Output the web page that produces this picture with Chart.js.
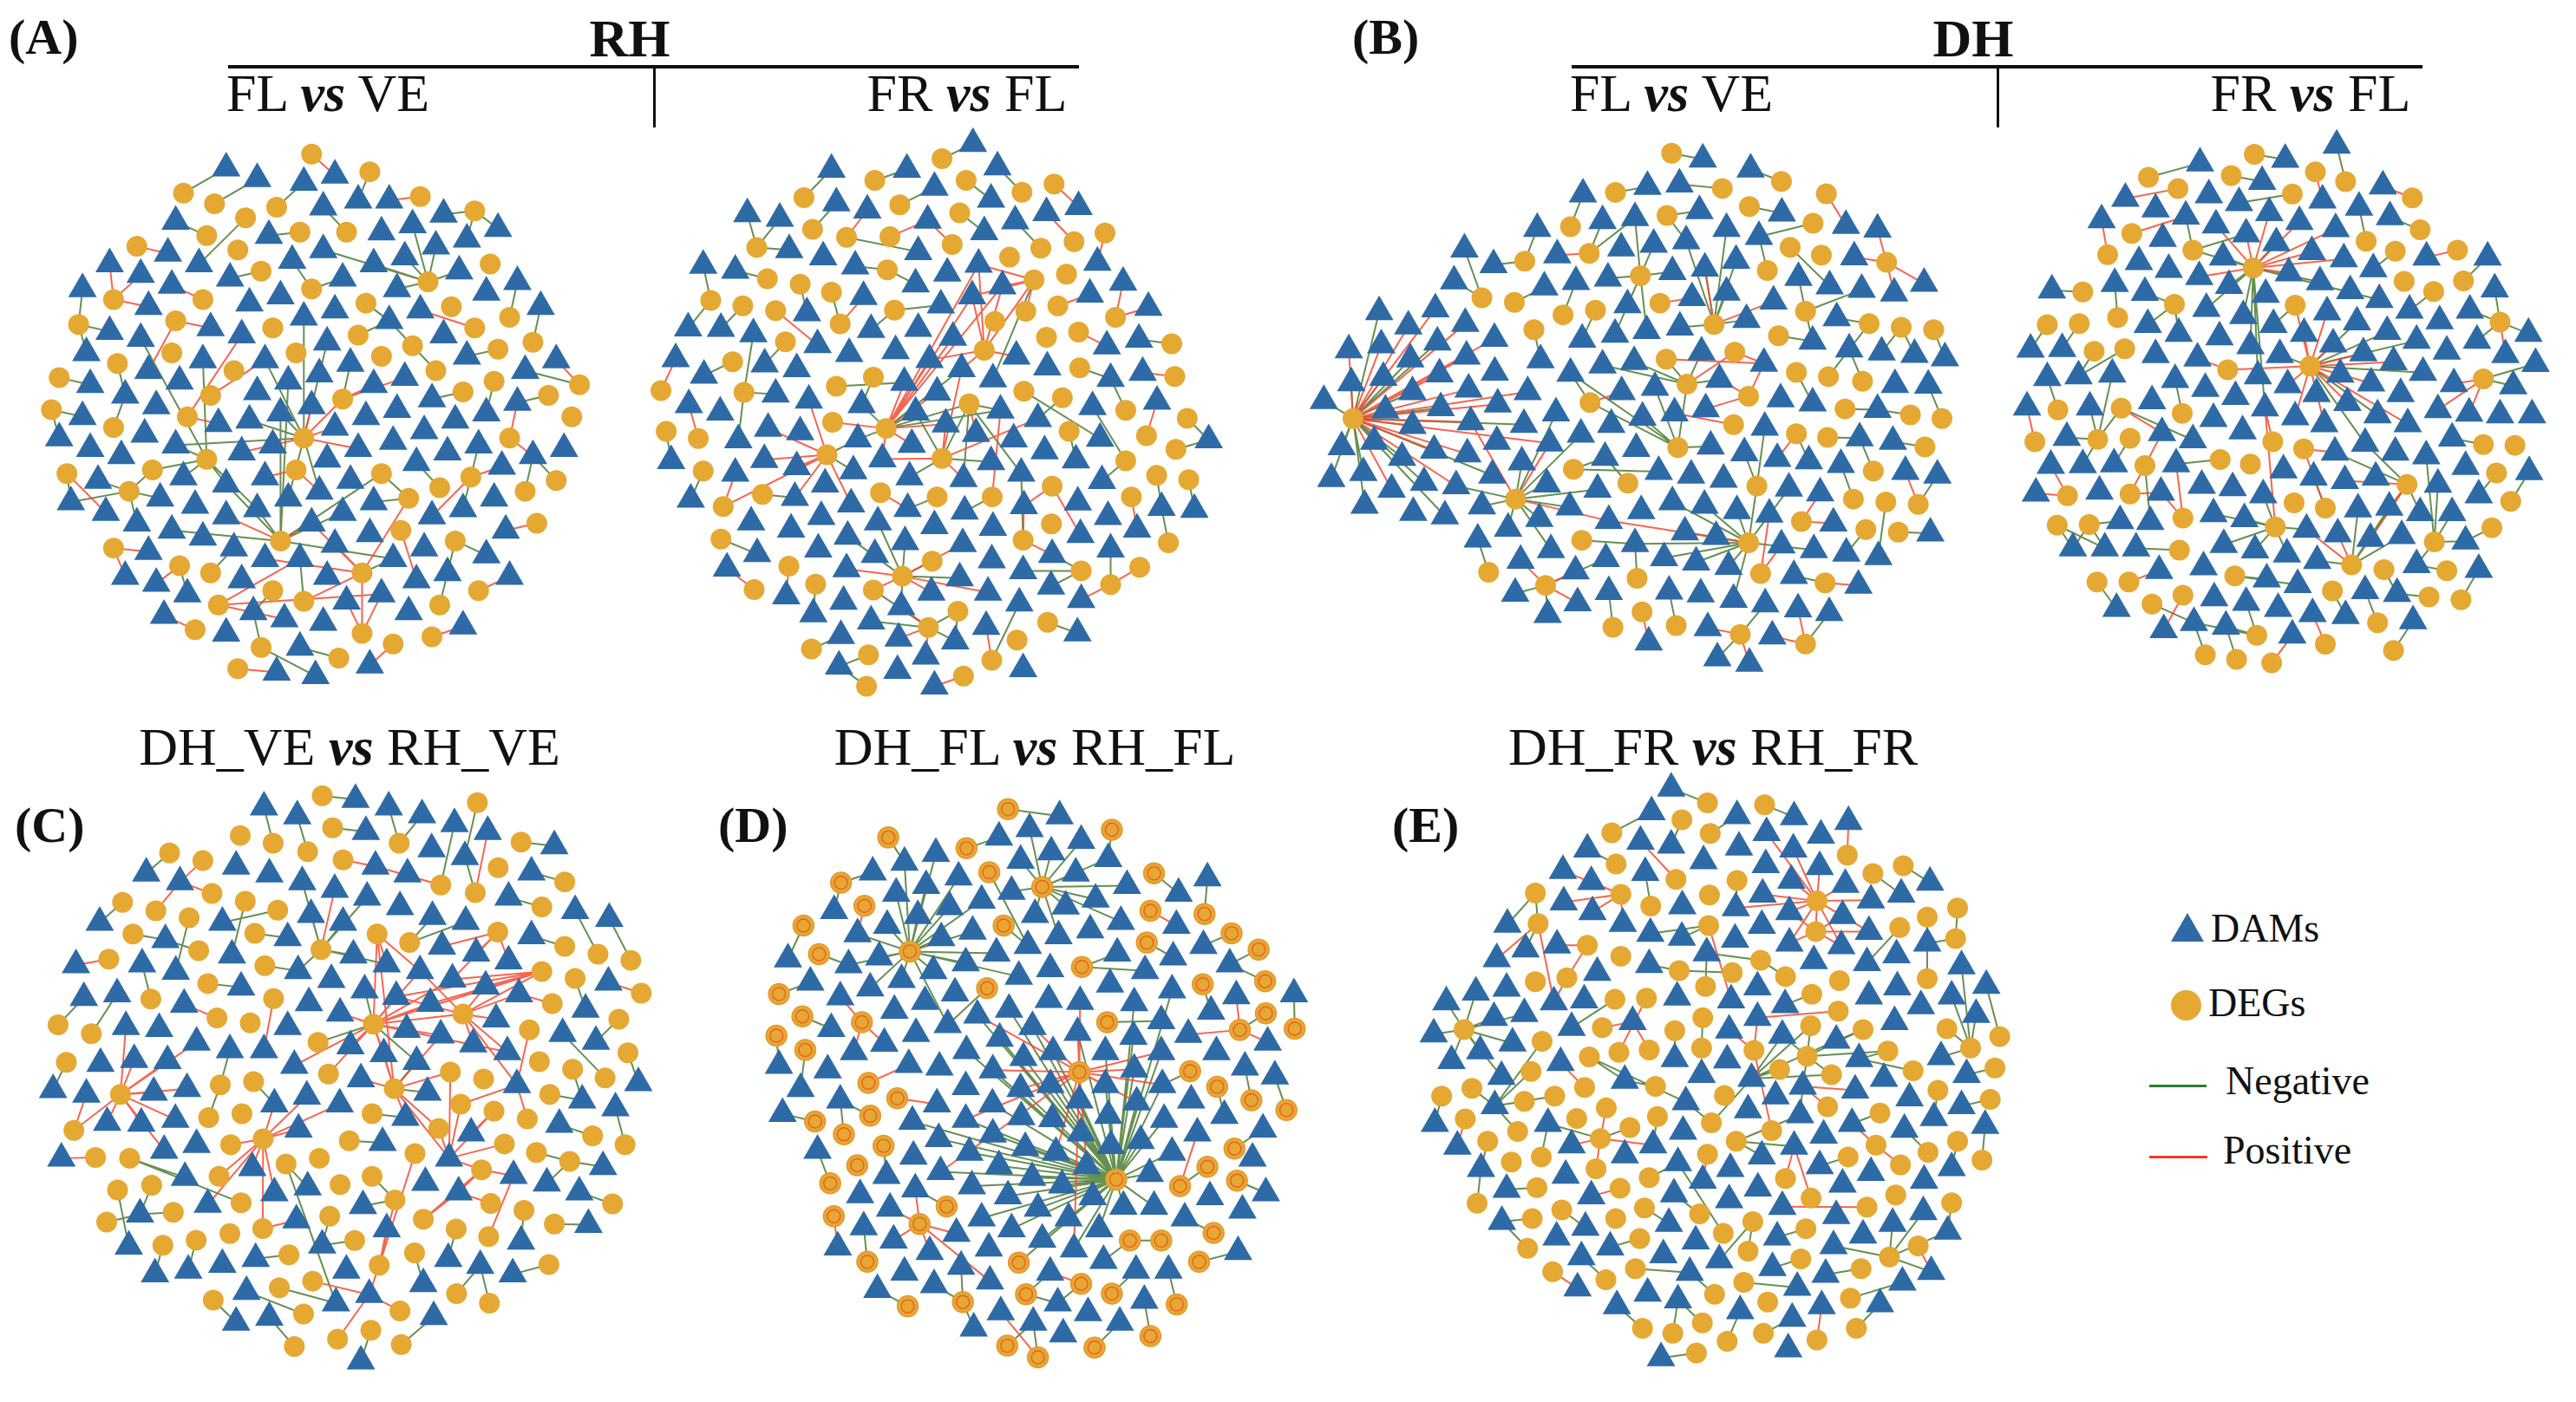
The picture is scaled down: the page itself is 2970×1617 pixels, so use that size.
<!DOCTYPE html>
<html>
<head>
<meta charset="utf-8">
<script src="https://cdn.jsdelivr.net/npm/chart.js@4.4.1/dist/chart.umd.min.js"></script>
<style>
  body { margin: 0; background: #fff; }
  #fig { position: relative; width: 2970px; height: 1617px; overflow: hidden; font-family: 'Liberation Serif', 'Times New Roman', serif; color: #111; }
  #fig canvas { position: absolute; }
  .t { position: absolute; line-height: 1; white-space: nowrap; font-family: 'Liberation Serif', 'Times New Roman', serif; }
  .c { text-align: center; width: 800px; }
  .lab { font-weight: bold; font-size: 58px; }
  .big { font-weight: bold; font-size: 62px; }
  .sub { font-size: 62px; }
  .t i { font-weight: bold; }
  .rule { position: absolute; background: #111; }
  .leg { font-size: 46px; }
</style>
</head>
<body>
<div id="fig">
  <div class="t lab" style="left:10px;top:14px">(A)</div>
  <div class="t big c" style="left:326px;top:13px">RH</div>
  <div class="rule" style="left:263px;top:75px;width:981px;height:4px"></div>
  <div class="rule" style="left:753px;top:77px;width:3px;height:70px"></div>
  <div class="t sub c" style="left:-22px;top:76px">FL <i>vs</i> VE</div>
  <div class="t sub c" style="left:715px;top:76px">FR <i>vs</i> FL</div>

  <div class="t lab" style="left:1559px;top:14px">(B)</div>
  <div class="t big c" style="left:1875px;top:13px">DH</div>
  <div class="rule" style="left:1812px;top:75px;width:981px;height:4px"></div>
  <div class="rule" style="left:2302px;top:77px;width:3px;height:70px"></div>
  <div class="t sub c" style="left:1527px;top:76px">FL <i>vs</i> VE</div>
  <div class="t sub c" style="left:2264px;top:76px">FR <i>vs</i> FL</div>

  <div class="t sub c" style="left:3px;top:830px">DH_VE <i>vs</i> RH_VE</div>
  <div class="t sub c" style="left:793px;top:830px">DH_FL <i>vs</i> RH_FL</div>
  <div class="t sub c" style="left:1575px;top:830px">DH_FR <i>vs</i> RH_FR</div>
  <div class="t lab" style="left:17px;top:923px">(C)</div>
  <div class="t lab" style="left:828px;top:923px">(D)</div>
  <div class="t lab" style="left:1605px;top:923px">(E)</div>

  <div style="position:absolute;left:2503px;top:1053px;width:0;height:0;border-left:19px solid transparent;border-right:19px solid transparent;border-bottom:33px solid #2E6AA5"></div>
  <div class="t leg" style="left:2549px;top:1048px">DAMs</div>
  <div style="position:absolute;left:2503px;top:1142px;width:35px;height:35px;border-radius:50%;background:#E5A832"></div>
  <div class="t leg" style="left:2546px;top:1134px">DEGs</div>
  <div style="position:absolute;left:2478px;top:1251px;width:66px;height:3px;background:#2E7A2E"></div>
  <div class="t leg" style="left:2566px;top:1224px">Negative</div>
  <div style="position:absolute;left:2478px;top:1333px;width:67px;height:3px;background:#F03A2A"></div>
  <div class="t leg" style="left:2563px;top:1304px">Positive</div>
</div>
<script>
// node layouts; A is in tenths of the zoom grid, the rest in zoom-grid units
const rhFlVeDams = [54,11,62,14,74,15,82,13,79,22,88,20,96,20,110,24,124,28,41,26,65,30,94,29,102,27,116,31,108,33,39,35,47,38,79,34,71,37,24,38,92,38,100,36,114,40,32,41,40,44,55,42,84,42,17,45,98,45,129,43,121,46,34,50,68,47,60,49,104,51,74,53,82,51,96,54,135,50,24,57,50,56,58,58,32,59,110,58,80,60,18,63,48,65,64,65,86,66,116,64,139,65,131,68,100,70,19,72,34,68,42,71,70,71,78,69,92,72,62,74,107,76,28,75,17,81,36,78,52,83,60,82,68,80,76,78,82,84,98,79,90,81,129,77,121,80,113,82,105,85,11,87,19,90,33,86,41,89,66,89,58,91,88,90,97,88,111,91,119,89,133,92,141,90,27,92,21,99,43,98,54,100,64,98,80,93,86,99,103,94,125,95,14,105,23,108,37,104,46,106,54,109,62,107,70,104,78,102,84,108,92,105,107,109,115,107,123,104,31,111,40,113,48,115,76,111,82,117,91,114,105,118,126,113,34,119,56,118,64,121,73,121,97,121,28,126,58,127,80,126,111,125,103,127,121,120,127,126,36,128,44,131,61,136,69,138,85,133,94,131,101,136,38,137,54,142,79,139,73,146,115,140,67,153,77,154,91,151];
const rhFlVeDegs = [76,7,91,12,43,18,51,21,67,22,104,19,118,23,59,25,49,30,73,29,85,29,31,33,57,34,122,38,63,40,76,45,106,43,25,48,48,48,90,49,112,50,16,55,41,54,66,56,88,58,118,56,127,53,133,60,40,63,72,63,102,61,94,64,26,66,56,68,124,62,108,68,11,70,50,75,84,76,145,72,123,71,115,74,137,75,9,79,44,81,143,81,25,84,74,87,127,87,49,93,13,97,35,96,72,96,94,97,117,98,139,99,29,102,101,104,109,101,131,102,68,116,99,113,113,116,134,111,25,118,42,123,50,125,89,125,119,130,66,130,74,133,52,134,109,134,46,141,89,142,63,146,107,143,97,145,57,152,83,149];
const rhFlVeNeg = [[74,87,74,53,68,80,70,104,60,82,64,65,80,60,41,89,78,102],[68,116,68,80,70,71,54,100,40,113,94,97,62,107,84,108,97,121],[49,93,32,59,48,65,41,89,35,96,54,100,62,107,43,98],[106,43,92,38,100,36,102,27,108,33,114,40,98,45,79,34],[29,102,21,99,37,104,31,111,35,96,14,105],[117,98,115,107,119,89],[84,76,86,66],[89,125,97,121],[91,12,88,20],[43,18,54,11],[51,21,62,14],[67,22,74,15],[118,23,110,24,124,28,116,31],[59,25,47,38],[49,30,41,26],[73,29,65,30],[85,29,79,22],[63,40,55,42],[76,45,71,37,84,42],[16,55,17,45,24,57,18,63],[96,54,90,49,102,61,88,58],[102,61,108,68],[127,53,129,43],[133,60,135,50],[124,62,116,64],[145,72,131,68],[137,75,129,77],[123,71,121,80],[115,74,107,76],[11,70,19,72],[26,66,28,75],[9,79,17,81,11,87],[25,84,28,75],[139,99,133,92],[131,102,133,92],[13,97,14,105],[101,104,92,105,94,97],[109,101,103,94],[113,116,121,120,111,125],[109,134,111,125],[42,123,44,131],[50,125,56,118],[66,130,61,136],[63,146,61,136,77,154],[83,149,73,146],[74,133,73,121]];
const rhFlVePos = [[76,7,82,13],[104,19,96,20],[31,33,39,35],[25,48,24,38,32,41,34,50],[48,48,40,44],[41,54,50,56,34,68],[118,56,104,51],[145,72,139,65],[127,87,133,92,129,77],[13,97,23,108],[44,81,52,83,58,58],[50,75,64,65],[74,87,76,78,82,84,88,90,84,76,58,91],[84,76,92,72,100,70],[72,96,64,98,78,102],[117,98,107,109,125,95],[99,113,103,127],[134,111,126,113],[119,130,127,126],[25,118,34,119,28,126],[42,123,36,128],[52,134,73,121,69,138,94,131],[89,125,76,111,82,117,74,133,101,104,64,121],[89,142,94,131,85,133,89,125],[46,141,38,137],[57,152,67,153],[97,145,91,151],[107,143,115,140],[68,116,54,109,76,111]];

const rhFrFlDams = [880,40,505,112,705,112,945,105,778,162,518,205,928,195,1160,215,600,225,282,235,368,248,760,253,1075,232,992,255,910,285,393,335,735,340,483,355,1210,370,165,378,250,392,568,380,895,375,812,400,728,430,958,435,878,463,1190,458,1278,425,440,510,590,465,795,488,1345,495,125,552,212,553,298,568,610,556,735,553,827,578,468,598,1235,602,1320,583,92,637,552,623,675,615,995,630,765,640,167,683,328,652,413,665,850,665,1077,660,1245,692,1330,675,698,703,933,693,785,730,127,765,210,785,357,735,445,752,585,765,728,785,953,780,1052,803,1197,770,1368,755,258,862,337,830,422,840,808,818,888,845,575,860,718,875,988,860,1217,858,1505,862,80,920,327,917,413,937,640,915,928,923,1070,893,1153,918,250,955,563,948,712,965,855,970,1008,955,132,1027,408,1022,488,985,557,1040,707,1053,858,1060,1015,1045,1158,1035,1222,975,1380,1050,1467,1055,292,1090,398,1110,478,1075,628,1090,778,1100,933,1105,1165,1125,1238,1075,1315,1110,308,1178,470,1165,548,1130,700,1145,853,1150,620,1180,1090,1180,1245,1165,228,1218,545,1220,930,1195,1013,1225,385,1295,845,1245,537,1310,690,1325,770,1285,920,1285,1087,1268,1167,1305,457,1345,610,1365,1003,1315,915,1380,1157,1398,530,1405,683,1412,833,1420,755,1462,525,1490,680,1502,1013,1497,778,1545];
const rhFrFlDegs = [798,82,620,142,862,142,1095,152,1010,175,432,190,686,210,845,232,455,278,545,300,660,298,825,320,1148,312,1060,330,1230,288,307,328,977,355,653,390,1128,402,335,415,422,430,505,452,1042,418,185,475,270,490,357,503,672,502,1105,490,1020,505,1258,522,938,533,528,540,383,590,1075,577,1160,563,1407,595,243,645,910,613,1163,662,1415,686,53,725,273,730,518,713,616,688,1015,727,1117,745,870,762,1285,780,1448,802,67,838,152,858,508,813,650,830,1135,838,1340,850,1418,888,165,948,493,903,798,913,1285,920,1367,960,1452,972,218,1047,322,1013,635,1008,785,1020,931,1020,1090,990,1300,1020,1088,1095,1013,1140,1398,1147,212,1137,392,1212,463,1262,772,1198,693,1240,1167,1225,1322,1215,300,1277,616,1278,1245,1263,840,1337,762,1382,1078,1368,452,1442,603,1458,997,1417,930,1473,855,1517,598,1545];
const rhFrFlNeg = [[650,830,728,785,850,665,870,762,575,860,585,765,953,780],[493,903,563,948,575,860],[798,913,712,965,728,785,870,762,928,923],[693,1240,690,1325,845,1245,700,1145,628,1090,772,1198,548,1130],[1042,418,933,693],[870,762,1008,955,953,780,855,970],[1117,745,1052,803],[762,1382,840,1337,833,1420,616,1278,610,1365],[1013,1140,1008,955],[1167,1225,1090,1180,1087,1268,1013,1225],[1245,1263,1245,1165],[1015,727,1217,858],[1285,920,1222,975,1197,770],[798,82,880,40],[620,142,705,112],[862,142,928,195],[1010,175,945,105],[432,190,505,112],[686,210,778,162],[455,278,518,205],[545,300,735,340],[845,232,910,285],[1060,330,992,255],[307,328,282,235,368,248,393,335],[653,390,568,380,728,430],[335,415,250,392],[185,475,165,378,125,552],[270,490,212,553],[422,430,440,510],[505,452,528,540],[672,502,795,488,610,556],[1407,595,1320,583],[383,590,328,652],[243,645,167,683],[273,730,298,568,357,735,258,862],[518,713,698,703],[616,688,585,765],[1285,780,1245,692],[1448,802,1505,862],[1418,888,1505,862],[67,838,80,920],[165,948,132,1027],[322,1013,408,1022],[1367,960,1380,1050],[1452,972,1467,1055],[1398,1147,1380,1050],[212,1137,308,1178],[463,1262,457,1345],[1078,1368,1157,1398],[930,1473,1003,1315],[452,1442,530,1405],[603,1458,525,1490],[598,1545,525,1490],[840,1337,833,1420],[1135,838,1153,918],[785,1020,707,1053],[931,1020,858,1060],[1163,662,1245,692]];
const rhFrFlPos = [[650,830,895,375,878,463,827,578,765,640,698,703,785,730,808,818,718,875,640,915,508,813,958,435],[493,903,337,830,413,937,327,917,218,1047,408,1022,445,752,557,1040],[798,913,640,915,855,970,808,818,850,665,1052,803],[693,1240,545,1220,920,1285,616,1278,770,1285,853,1150],[910,613,878,463,895,375,958,435,1042,418,765,640,995,630,850,665],[1042,418,895,375,958,435,1020,505,878,463],[870,762,888,845],[762,1382,683,1412,755,1462,690,1325],[1013,1140,1090,1180,1015,1045],[1245,1263,1167,1305,1322,1215],[1095,152,1160,215],[545,300,600,225],[660,298,760,253],[825,320,760,253],[1148,312,1075,232],[1230,288,1210,370],[357,503,468,598],[528,540,590,465],[1105,490,1190,458],[1258,522,1278,425,1345,495],[1160,563,1235,602],[1415,686,1330,675],[53,725,92,637],[152,858,127,765],[1340,850,1368,755],[218,1047,250,955],[1300,1020,1315,1110],[392,1212,385,1295],[300,1277,228,1218],[930,1473,915,1380],[855,1517,778,1545],[1090,990,1015,1045,1165,1125],[635,1008,707,1053],[931,1020,953,780]];

const dhFlVeDams = [968,85,1083,113,912,155,835,162,680,183,960,230,1158,237,805,250,727,258,1312,272,1388,282,570,280,1025,280,1103,303,928,315,850,325,772,335,618,355,395,338,465,382,1332,360,1048,370,973,392,895,402,740,420,663,430,587,445,370,428,1198,418,1273,442,1350,452,1428,462,1500,435,942,475,1025,460,787,495,1138,485,190,515,325,507,1073,537,913,558,1290,532,260,555,397,548,757,578,833,568,1232,598,117,622,195,608,330,600,467,590,678,592,1320,620,1398,628,1477,635,1550,645,265,648,400,640,578,650,803,655,965,628,727,665,1115,660,123,715,200,700,335,690,468,685,650,688,1008,705,1430,720,1510,722,270,740,405,733,547,740,773,740,853,728,1155,760,1232,772,1388,790,57,765,205,792,338,785,475,775,975,788,900,800,823,812,748,832,615,800,270,835,410,825,538,832,1117,840,1345,870,1425,880,100,895,178,880,322,905,402,915,473,880,600,885,675,860,987,893,733,925,808,900,1068,912,1147,928,1223,935,75,985,152,968,245,925,462,975,533,938,862,965,940,975,1018,987,1300,945,1455,965,1532,975,220,1015,298,995,375,1005,593,1000,715,1015,1175,1012,1250,1025,155,1060,272,1080,348,1090,437,1062,648,1065,820,1075,895,1050,972,1060,1050,1075,500,1125,575,1097,742,1103,1128,1085,1282,1110,1515,1138,427,1155,805,1168,925,1135,1000,1148,1157,1172,1235,1185,1313,1195,1390,1205,603,1185,530,1215,735,1210,875,1208,952,1220,1030,1232,662,1245,1187,1258,1342,1285,517,1308,667,1335,742,1303,887,1302,963,1310,1042,1325,595,1368,1118,1338,1197,1352,1272,1362,980,1405,1135,1428,838,1445,1003,1490,1080,1505];
const dhFlVeDegs = [893,68,1157,147,1015,167,758,178,1265,182,1080,218,882,243,650,275,1233,265,1178,333,1253,355,695,350,540,372,1410,375,1123,398,818,413,437,475,515,488,865,490,632,523,710,510,1215,513,995,550,1368,548,1445,558,1523,565,562,565,1150,582,1045,628,880,648,1193,685,1270,697,1352,710,930,718,697,770,1078,752,1310,788,1467,805,1543,815,127,815,1042,832,1193,858,1268,868,1502,895,908,897,657,958,788,997,1098,1005,1378,963,518,1042,1330,1042,1408,1050,1486,1057,1205,1105,1360,1128,1438,1135,677,1158,1078,1165,453,1248,590,1285,810,1265,1107,1252,1262,1278,822,1360,752,1403,904,1398,1058,1423,1215,1450];
const dhFlVeNeg = [[127,815,190,515,123,715,200,700,265,648,330,600,270,740,338,785,270,835,178,880,100,895,152,968,155,1060,245,925,298,995,348,1090,462,975,538,832,57,765,75,985],[518,1042,533,938,615,800,675,860,715,1015,437,1062,575,1097,500,1125,593,1000,648,1065,375,1005,603,1185],[1078,1165,805,1168,875,1208,952,1220,1030,1232,1042,1325,1098,1005,972,1060,925,1135,895,1050,1050,1075,1175,1012,1128,1085,1235,1185],[995,550,928,315,973,392,1048,370,1025,280,1025,460,913,558,1073,537],[818,413,850,325,805,250,757,578,740,420,895,402,833,568,787,495],[930,718,727,665,803,655,965,628,880,648,1008,705,908,897],[908,897,650,688,853,728,823,812,987,893],[1098,1005,1117,840,1068,912],[697,770,650,688,908,897],[590,1285,517,1308,595,1368,735,1210],[1058,1423,1118,1338,1003,1490],[1215,1450,1272,1362],[1193,858,1223,935],[1368,548,1320,620,1290,532],[893,68,968,85],[1157,147,1083,113],[1015,167,912,155],[758,178,835,162],[650,275,680,183],[1080,218,1158,237],[882,243,960,230,928,315],[695,350,727,258,805,250],[1233,265,1103,303],[540,372,570,280,465,382],[437,475,395,338,370,428],[515,488,587,445],[1178,333,1273,442],[1123,398,1103,303],[632,523,663,430],[710,510,678,592],[1215,513,1198,418,1350,452,1232,598],[562,565,578,650],[1150,582,1232,598],[1445,558,1398,628,1477,635],[1523,565,1550,645],[1270,697,1320,620],[1352,710,1320,620],[1193,685,1232,772],[1310,788,1388,790],[1467,805,1388,790],[1543,815,1510,722],[1268,868,1345,870],[1502,895,1425,880],[1378,963,1345,870],[657,958,733,925,862,965],[788,997,733,925],[1330,1042,1300,945],[1486,1057,1532,975],[1408,1050,1390,1205],[1360,1128,1313,1195],[1438,1135,1515,1138],[677,1158,805,1168],[453,1248,427,1155],[810,1265,805,1168],[1262,1278,1187,1258],[752,1403,742,1303],[904,1398,887,1302]];
const dhFlVePos = [[127,815,117,622,195,608,260,555,325,507,397,548,467,590,400,640,335,690,405,733,547,740,475,775,600,885,410,825,402,915,322,905,375,1005,220,1015,205,792],[518,1042,410,825,600,885,742,1103],[1078,1165,742,1103],[995,550,973,392,1138,485],[930,718,1045,628],[880,648,1115,660],[1078,752,975,788,1115,660,1008,705],[697,770,773,740],[590,1285,662,1245,667,1335,530,1215],[1058,1423,980,1405,1080,1505],[1215,1450,1197,1352,1135,1428],[1193,858,1147,928],[1265,182,1312,272],[695,350,618,355],[1410,375,1332,360,1500,435,1388,282,1428,462],[865,490,942,475],[1045,628,1115,660],[1042,832,900,800],[1486,1057,1455,965],[1205,1105,1282,1110,1250,1025],[1107,1252,1128,1085,1157,1172],[1262,1278,1342,1285],[822,1360,838,1445]];

const dhFrFlDams = [965,70,820,110,580,120,755,172,1095,185,605,210,925,225,370,220,455,250,690,232,1028,245,540,270,775,260,303,280,625,295,860,285,962,305,1115,272,475,333,710,320,795,345,1218,385,1390,385,895,370,408,398,645,385,985,390,492,420,578,440,830,430,1068,418,1410,475,163,478,340,460,425,485,662,465,918,455,1003,480,765,490,1085,505,598,530,1170,535,1255,565,1340,535,938,540,702,550,433,575,520,600,787,575,1022,568,1107,595,1505,600,103,645,192,643,635,610,873,600,955,630,1190,620,1360,620,1275,650,1440,660,455,660,722,635,805,660,1040,655,1125,680,573,670,150,725,238,720,333,715,510,730,743,720,975,715,1208,710,1525,685,1062,740,827,745,1295,742,1462,748,595,755,908,770,1145,770,93,808,270,808,445,790,680,778,995,795,1080,830,1250,815,1338,825,1515,830,763,810,618,840,1425,830,848,835,930,855,1165,855,205,893,473,880,560,900,700,875,1045,910,1290,895,960,935,1130,935,1217,945,160,972,250,970,338,968,513,968,815,985,900,1005,1328,975,1507,990,988,1015,1075,1005,118,1050,297,1045,470,1048,585,1028,672,1035,758,1055,1250,1025,1365,1055,618,1108,440,1130,355,1128,705,1122,880,1152,968,1165,1025,1095,1113,1090,1200,1105,1290,1105,222,1205,312,1205,400,1205,647,1195,735,1210,825,1222,1060,1178,1148,1170,1328,1185,910,1240,1190,1252,1365,1265,465,1268,590,1258,768,1292,855,1308,1045,1325,1135,1333,620,1345,345,1375,710,1358,800,1375,897,1390,990,1395,1180,1410,478,1435,563,1415,653,1425,840,1450];
const dhFrFlDegs = [733,95,668,155,905,145,435,160,990,172,518,192,1178,218,840,207,388,318,1200,308,560,365,1048,340,1130,368,1305,365,320,378,730,415,1155,453,1322,452,250,483,508,518,848,520,1238,482,1425,568,348,555,150,575,240,572,282,650,368,643,890,692,658,702,1378,728,180,815,358,810,530,825,115,905,292,898,383,895,785,905,872,925,1378,913,1467,915,425,972,637,955,722,968,1415,993,1163,1025,207,1057,383,1052,1455,1073,845,1077,933,1092,532,1120,178,1140,268,1138,792,1145,1402,1147,522,1210,1240,1187,1007,1252,1098,1265,1275,1268,678,1283,290,1300,380,1300,953,1325,1225,1342,1315,1350,532,1337,445,1362,1080,1415,740,1450,933,1475,595,1505,683,1518,782,1528,1125,1493];
const dhFrFlNeg = [[730,415,560,365,645,385,795,345,662,465,918,455,598,530,702,550,722,635,743,720,763,810,1085,505],[890,692,1208,710,1022,568,1107,595,1190,620,1080,830,805,660,1045,910],[560,365,540,270,710,320],[508,518,425,485,433,575,520,600],[1378,728,1525,685,1462,748],[1163,1025,960,935,1045,910,1200,1105],[1007,1252,1060,1178,1148,1170,1113,1090,1025,1095,1163,1025,910,1240],[792,1145,705,1122,618,1108,647,1195,880,1152,735,1210,758,1055,825,1222],[1240,1187,1217,945,1250,1025,1290,1105,1328,1185,1190,1252],[1425,568,1505,600,1410,475,1360,620,1340,535],[292,898,205,893,250,970,358,810,270,808,333,715],[425,972,440,1130],[637,955,513,968],[358,810,560,900],[933,1092,900,1005],[178,1140,222,1205,312,1205],[268,1138,222,1205,312,1205,355,1128],[740,1450,653,1425,563,1415,710,1358],[733,95,820,110],[668,155,755,172],[990,172,965,70],[435,160,580,120],[840,207,690,232],[1048,340,1028,245],[1130,368,1068,418],[1200,308,1115,272],[1322,452,1390,385],[250,483,163,478],[348,555,340,460],[848,520,787,575],[1238,482,1170,535],[150,575,103,645],[240,572,192,643],[282,650,238,720],[368,643,238,720],[530,825,510,730],[180,815,150,725],[383,895,338,968],[1378,913,1290,895],[1415,993,1365,1055],[1455,1073,1507,990],[522,1210,400,1205],[1402,1147,1328,1185],[1098,1265,1135,1333],[1275,1268,1190,1252],[678,1283,855,1308,768,1292],[290,1300,345,1375],[953,1325,990,1395],[1225,1342,1135,1333],[1315,1350,1365,1265],[445,1362,563,1415],[1080,1415,1045,1325],[595,1505,563,1415],[683,1518,653,1425],[1125,1493,1180,1410]];
const dhFrFlPos = [[730,415,625,295,860,285,962,305,985,390,895,370,578,440,830,430,775,260,710,320],[890,692,938,540,955,630,873,600,1040,655,1125,680,975,715,908,770,1062,740,995,795,930,855,1165,855,848,835,827,745,848,520,658,702],[1378,728,1250,815,1338,825,1295,742],[1163,1025,988,1015,1060,1178,1113,1090],[1007,1252,968,1165,880,1152],[792,1145,763,810],[1425,568,1440,660],[425,972,473,880,383,1052],[933,1092,872,925],[905,145,925,225],[518,192,370,220],[1178,218,1095,185],[388,318,540,270],[320,378,303,280],[1305,365,1218,385],[658,702,573,670],[115,905,93,808],[785,905,763,810],[872,925,960,935],[207,1057,160,972,118,1050],[383,1052,470,1048],[532,1120,470,1048,513,968],[380,1300,465,1268],[532,1337,478,1435],[933,1475,897,1390],[782,1528,840,1450],[358,810,473,880]];

const veDhRhDams = [815,52,595,72,675,95,895,72,975,92,1053,115,1133,135,840,135,1293,172,998,180,1078,200,528,225,608,245,863,225,940,245,312,243,393,265,687,265,765,285,1238,240,843,305,922,330,1183,305,1343,340,1425,360,200,370,495,370,708,350,785,370,1000,355,1080,368,1238,405,358,415,652,410,1023,432,1105,450,1183,470,143,480,302,478,383,497,518,455,677,495,810,455,890,478,970,495,540,538,757,518,1048,517,1128,535,1423,525,162,565,242,555,403,582,837,545,913,562,995,580,1208,555,703,578,778,605,1153,620,1368,595,263,640,343,645,652,640,938,647,1020,662,433,680,513,700,595,700,803,690,883,710,1098,685,1180,705,1313,658,1393,678,202,735,283,725,363,728,668,740,962,730,88,803,168,815,330,810,410,800,698,820,828,775,988,810,1203,790,1360,830,1495,785,218,888,300,890,382,880,620,840,777,840,935,875,1440,850,1305,893,678,905,355,960,433,945,880,940,1093,915,1040,980,108,980,1410,1002,567,1005,405,1030,983,1043,1195,1025,1275,1045,1353,1068,620,1070,700,1055,460,1100,1063,1068,297,1125,833,1103,673,1140,1375,1152,270,1208,735,1205,890,1163,1213,1195,575,1240,495,1255,1038,1240,333,1280,413,1270,793,1270,1115,1258,1193,1280,553,1325,848,1333,978,1305,768,1355,1003,1390,528,1405,608,1392,828,1505];
const veDhRhDegs = [735,42,1108,60,538,145,617,165,700,187,760,125,920,165,1213,162,368,190,448,210,785,208,1158,228,1020,273,1103,293,1318,265,470,295,255,318,335,340,550,315,628,338,1263,330,415,358,1157,395,280,400,573,398,732,440,867,400,945,422,1318,432,1398,452,1477,468,222,465,1263,497,438,443,597,482,460,528,1343,515,1502,553,323,568,1288,580,618,567,1073,607,100,635,180,658,482,617,562,630,858,633,1233,648,1448,620,725,680,1470,707,120,732,750,762,1043,757,1257,730,1337,750,1415,772,250,815,490,790,570,782,908,800,1123,775,1282,815,462,875,542,865,855,865,1068,840,1148,858,1228,878,138,908,1385,922,1463,945,593,930,515,945,800,935,1015,903,1173,943,958,968,190,978,272,980,648,995,728,980,1250,965,1330,988,487,1027,855,1027,1118,1010,243,1062,325,1050,540,1095,778,1048,1140,1097,1433,1098,217,1145,377,1120,910,1088,978,1138,753,1130,1220,1115,1293,1150,592,1162,513,1175,432,1192,352,1205,813,1193,1057,1163,1135,1183,655,1230,957,1225,872,1257,1280,1255,632,1315,712,1298,1058,1330,1137,1355,473,1347,690,1383,922,1375,852,1425,772,1448,925,1462,668,1467];
const veDhRhNeg = [[858,633,962,730,837,545,725,680],[732,440,708,350,785,370,843,305,810,455,890,478,677,495,687,265],[908,800,962,730,988,810],[648,995,700,1055,768,1355],[272,980,405,1030,540,1095],[735,42,815,52],[1108,60,1078,200],[617,165,595,72],[700,187,675,95],[760,125,840,135],[920,165,895,72,975,92],[1213,162,1293,172],[368,190,312,243],[1020,273,1053,115],[1103,293,1078,200],[1318,265,1238,240],[255,318,200,370],[628,338,495,370],[550,315,518,455],[1263,330,1183,305],[415,358,383,497],[280,400,358,415],[438,443,358,415],[573,398,652,410],[945,422,1000,355,1080,368],[1318,432,1238,405],[1398,452,1343,340],[1477,468,1425,360],[323,568,302,478],[460,528,540,538],[597,482,677,495],[1343,515,1368,595],[100,635,162,565],[180,658,242,555],[1448,620,1393,678],[120,732,88,803],[1337,750,1360,830],[1415,772,1313,658],[1470,707,1495,785],[490,790,462,875,513,700],[570,782,620,840],[1282,815,1360,830],[855,865,935,875],[1385,922,1305,893],[1463,945,1440,850],[800,935,880,940],[1250,965,1330,988],[1330,988,1410,1002,1275,1045],[243,1062,270,1208],[325,1050,297,1125],[217,1145,297,1125],[377,1120,297,1125],[753,1130,735,1205],[1433,1098,1353,1068],[1293,1150,1375,1152],[1220,1115,1213,1195],[910,1088,833,1103,855,1027],[432,1192,413,1270],[352,1205,333,1280],[655,1230,575,1240],[957,1225,978,1305],[1057,1163,1038,1240],[1280,1255,1193,1280],[1058,1330,1115,1258],[1137,1355,1115,1258],[632,1315,768,1355],[690,1383,553,1325],[473,1347,528,1405],[852,1425,828,1505],[925,1462,1003,1390],[668,1467,608,1392],[813,1193,735,1205]];
const veDhRhPos = [[250,815,283,725,263,640,330,810,410,800,382,880,300,890,218,888,355,960,138,908,363,728,433,680],[858,633,913,562,938,647,1020,662,803,690,883,710,750,762,668,740,1073,607,1048,517,995,580,970,495,1263,497,1180,705,908,800,867,400,778,605],[1073,607,1153,620,1208,555,1263,497,970,495,913,562,1203,790,1098,685,1180,705,1128,535],[1263,497,1048,517,995,580,913,562,1128,535],[1233,648,1203,790],[732,440,765,285],[593,930,678,905,620,840,515,945,487,1027,460,1100,567,1005,620,1070,592,1162,698,820,777,840],[908,800,828,775,935,875,1040,980,1015,903,867,400,883,710,1020,662,1043,757],[1040,980,1043,757,1068,840,1148,858,1118,1010,1015,903,1173,943],[1068,840,1203,790],[1157,395,1105,450,1183,470,1048,517,1023,432],[867,400,970,495,890,478],[1103,293,1133,135],[1020,273,863,225],[1118,1010,1063,1068,978,1138,1195,1025],[1063,1068,978,1138,1140,1097],[872,1257,890,1163,848,1333,910,1088,958,968],[448,210,393,265],[785,208,863,225],[470,295,393,265],[335,340,393,265],[222,465,143,480],[1502,553,1423,525],[482,617,403,582],[618,567,595,700],[1288,580,1208,555],[138,908,168,815],[1228,878,1203,790],[190,978,108,980],[1148,858,1093,915],[1135,1183,1195,1025],[592,1162,673,1140],[712,1298,848,1333],[922,1375,848,1333],[772,1448,848,1333]];

const flDhRhDams = [848,95,765,128,680,150,908,158,505,192,418,215,825,188,740,210,983,205,330,240,568,253,478,275,893,243,1258,255,1178,295,1035,275,715,290,395,295,632,313,543,330,948,310,865,328,223,340,455,353,780,350,1018,368,1172,378,370,378,288,400,607,393,520,410,845,405,933,390,1247,430,95,465,263,480,348,460,673,450,588,475,760,430,1163,460,1008,450,498,495,1320,478,410,518,735,510,822,490,1085,495,157,525,240,563,323,540,475,575,558,553,1160,545,988,530,1338,560,1055,578,1498,555,708,595,818,570,905,575,215,645,390,598,620,610,538,635,1130,625,1268,600,362,683,450,658,278,705,773,640,898,655,1205,660,1053,665,682,670,1425,680,590,702,515,745,430,738,830,705,975,705,1130,705,1283,705,70,740,205,752,663,752,748,720,1055,750,1362,745,130,800,240,830,588,795,823,790,975,790,1133,790,1445,768,80,865,508,840,662,840,740,800,903,830,1062,835,1213,830,1305,870,440,885,588,880,742,873,828,878,983,870,1138,880,1412,905,513,930,663,918,907,915,1073,935,1230,915,1160,965,177,960,443,975,598,965,753,953,838,965,990,948,1383,980,518,1015,680,1000,923,1000,1098,1020,368,1025,605,1052,772,1030,855,1050,1420,1070,295,1075,448,1060,705,1078,940,1080,1025,1105,1110,1105,1265,1080,1355,1115,378,1110,632,1135,788,1110,873,1135,1195,1135,305,1158,562,1175,715,1163,958,1163,233,1210,388,1192,488,1222,652,1213,800,1190,888,1215,970,1245,1343,1222,575,1260,418,1275,1060,1270,1150,1270,822,1275,343,1320,500,1308,655,1298,843,1355,1083,1348,685,1378,927,1380,1015,1405,775,1405,610,1420,858,1435];
const flDhRhDegs = [705,77,993,130,373,150,590,178,242,267,653,240,800,278,1110,243,307,327,1100,340,1250,348,138,378,693,378,1325,398,1090,422,1400,440,181,452,433,445,910,485,1418,522,70,555,647,540,1245,530,135,613,300,628,980,628,1420,605,63,663,1348,648,1500,645,143,700,903,757,1210,755,318,785,398,825,1285,795,1380,830,170,885,323,870,1477,855,250,918,360,948,1333,955,287,998,1258,1002,212,1045,1005,1035,1340,1038,1182,1052,535,1105,460,1150,222,1130,1275,1173,1043,1193,1130,1193,735,1250,315,1248,1235,1248,580,1352,908,1305,755,1332,993,1330,1173,1358,427,1363,1100,1440,703,1465,945,1470,788,1495];
const flDhRhNeg = [[1005,1035,823,790,740,800,662,840,588,880,440,885,513,930,598,965,663,918,753,953,838,965,907,915,983,870,903,830,975,790,1062,835,1133,790,1073,935,990,948,1138,880,1160,965,1098,1020,1110,1105,1025,1105,940,1080,855,1050,772,1030,680,1000,605,1052,518,1015,705,1078,632,1135,788,1110,873,1135,715,1163,800,1190,888,1215,958,1163,735,1250,1130,705,1055,750,1053,665,975,705,898,655,830,705,773,640,708,595,620,610,590,702,663,752,748,720,682,670,1055,578,1160,545],[433,445,418,215,505,192,478,275,568,253,632,313,543,330,455,353,370,378,288,400,348,460,263,480,410,518,498,495,607,393,588,475,673,450,735,510,520,410,323,540,395,295,538,635],[800,278,765,128,825,188,740,210,908,158,893,243,983,205,1035,275,948,310,1018,368,865,328,845,405,780,350,715,290],[910,485,1085,495,1008,450],[580,1352,575,1260,610,1420,500,1308],[755,1332,843,1355,822,1275],[908,1305,843,1355],[705,77,848,95],[993,130,983,205],[373,150,418,215],[590,178,680,150],[242,267,330,240,223,340],[653,240,760,430],[1110,243,1178,295],[1250,348,1258,255],[138,378,95,465],[693,378,760,430],[181,452,263,480],[1090,422,1163,460],[1325,398,1247,430],[1400,440,1320,478],[70,555,157,525],[1418,522,1320,478],[647,540,538,635],[1245,530,1268,600],[980,628,1130,625],[135,613,215,645],[1500,645,1498,555],[63,663,70,740],[143,700,130,800],[1210,755,1133,790],[170,885,80,865],[323,870,240,830],[1477,855,1445,768],[250,918,240,830],[360,948,368,1025],[1333,955,1412,905],[212,1045,177,960],[1258,1002,1182,1052],[1340,1038,1420,1070],[535,1105,448,1060],[1275,1173,1195,1135],[315,1248,305,1158],[1043,1193,1130,1193,970,1245],[1235,1248,1343,1222],[993,1330,1060,1270],[1173,1358,1150,1270],[427,1363,343,1320],[1100,1440,1083,1348],[703,1465,775,1405],[945,1470,1015,1405],[788,1495,775,1405],[1380,830,1362,745],[1285,795,1305,870],[1420,605,1348,648]];
const flDhRhPos = [[903,757,905,575,898,655,773,640,663,752,620,610,1130,705,1055,750,1133,790,1062,835,975,790,823,790,740,800,588,880,518,1015,923,1000,838,965,888,1215],[460,1150,378,1110,448,1060,488,1222,562,1175,655,1298,388,1192],[1348,648,1338,560,1425,680,1205,660],[300,628,240,563,278,705,362,683],[908,1305,822,1275],[307,327,288,400],[1100,340,1172,378],[318,785,430,738],[398,825,508,840],[1182,1052,1230,915],[222,1130,233,1210],[788,1495,685,1378]];

const frDhRhDams = [678,45,628,105,845,115,990,118,1128,130,600,180,678,190,920,158,1058,165,850,195,988,200,465,200,760,230,612,260,918,240,1055,245,403,255,475,283,983,280,1335,285,1262,315,1120,290,1185,330,910,315,405,335,706,345,842,350,978,360,1113,370,262,392,478,360,555,390,908,395,1180,410,625,415,705,425,840,430,978,440,1110,447,1328,440,388,445,308,455,768,465,1040,485,235,480,1250,470,1175,490,1415,498,490,515,622,495,897,552,1252,552,1478,548,107,590,182,565,260,555,380,590,457,585,693,578,830,585,1180,575,1312,600,1390,575,967,597,1452,622,228,630,305,620,425,655,580,640,897,630,825,662,1245,640,75,672,275,695,193,715,687,735,960,675,1097,688,1363,730,120,740,397,745,820,738,1155,735,1428,775,247,780,560,790,755,775,882,785,1218,785,1012,805,1145,815,1283,835,230,855,715,845,943,830,1415,855,78,900,873,865,1005,878,1345,885,365,900,1475,905,1137,900,708,920,632,955,1065,930,1270,915,135,958,425,955,560,980,990,958,908,983,695,1000,828,1015,1055,1008,1390,1013,195,1015,410,1032,758,1045,1113,1055,1185,1025,1320,1045,260,1068,475,1085,685,1080,898,1065,825,1095,960,1112,1097,1135,460,1165,672,1155,1240,1155,1318,1125,248,1150,387,1190,740,1200,947,1190,1165,1185,1380,1175,523,1215,658,1235,800,1248,450,1240,935,1268,1090,1212,725,1280,1070,1285,998,1318,1265,1305,1338,1278,440,1320,618,1333,695,1350,540,1365,853,1378,1060,1365,985,1397,1208,1360,652,1498,975,1475];
const frDhRhDegs = [770,82,915,87,705,125,527,158,777,160,538,238,1125,215,1190,262,1267,242,690,277,845,280,333,312,550,315,775,317,626,345,1048,332,1328,373,1405,350,340,390,773,395,1258,400,1045,410,1400,428,465,445,550,473,905,483,333,538,413,528,698,510,833,515,968,525,1105,535,1328,530,765,550,535,583,615,580,1035,570,1102,613,152,660,503,655,687,663,758,630,1032,650,1165,660,1378,658,1512,678,350,690,545,718,622,712,755,707,888,713,1023,728,1228,715,1438,707,470,730,1292,765,1500,758,322,767,953,762,638,805,1085,775,95,830,172,810,458,808,813,828,1355,815,1488,838,305,843,382,830,1075,857,155,888,513,860,438,887,643,882,780,898,1208,873,288,920,498,938,573,910,933,918,212,945,770,978,843,945,1198,955,1405,945,1330,973,272,998,348,985,487,1015,1127,985,1260,1005,1467,993,622,1038,968,1040,337,1063,548,1065,1033,1090,1248,1082,185,1103,750,1130,610,1115,1175,1113,1390,1102,325,1142,400,1120,537,1142,885,1150,598,1193,810,1180,1020,1168,313,1218,873,1225,1232,1240,1305,1212,587,1270,1007,1245,1160,1270,377,1278,512,1298,862,1305,788,1335,1133,1345,923,1355,605,1422,757,1408,682,1435,820,1455,912,1435,1048,1452,1148,1422,742,1485];
const frDhRhNeg = [[152,660,107,590,182,565,228,630,305,620,275,695,193,715,75,672,120,740,247,780],[340,390,333,312,308,455],[498,938,573,910,365,900],[882,785,960,675,1097,688,1032,650,953,762,1085,775],[1023,728,960,675,1032,650,1085,775,1165,660,1228,715],[1012,805,1005,878,1023,728],[1438,707,1390,575,1452,622,1363,730,1378,658,1415,498],[1232,1240,1240,1155,1318,1125,1338,1278,1090,1212,1380,1175],[843,945,908,983,990,958,1005,878],[230,855,322,767,305,843,382,830,350,690],[770,82,678,45],[915,87,990,118],[705,125,678,190],[527,158,628,105],[777,160,845,115],[538,238,465,200],[845,280,842,350],[1190,262,1262,315],[1267,242,1335,285],[333,312,262,392],[626,345,612,260],[773,395,625,415,705,425],[1328,373,1328,440],[1405,350,1400,428],[1400,428,1328,440],[1258,400,1175,490],[1328,530,1328,440],[905,483,968,525,768,465],[698,510,833,515,622,495],[765,550,768,465],[1035,570,967,597],[535,583,425,655],[758,630,755,707],[687,663,687,735],[1165,660,1097,688],[1292,765,1155,735],[1512,678,1478,548],[1228,715,1155,735],[1500,758,1428,775],[470,730,560,790,715,845],[638,805,560,790],[95,830,78,900],[172,810,230,855],[1488,838,1415,855],[288,920,230,855],[643,882,632,955],[780,898,715,845,882,785],[1208,873,1137,900],[212,945,195,1015],[348,985,365,900],[1405,945,1390,1013],[1330,973,1270,915],[1127,985,1055,1008],[1467,993,1475,905],[622,1038,695,1000],[337,1063,260,1068],[185,1103,195,1015],[750,1130,685,1080],[810,1180,695,1000],[610,1115,672,1155],[400,1120,460,1165],[325,1142,248,1150],[598,1193,523,1215],[1390,1102,1380,1175],[885,1150,800,1248,873,1225],[1020,1168,947,1190],[313,1218,248,1150],[587,1270,725,1280],[1007,1245,935,1268],[1160,1270,1070,1285],[512,1298,450,1240],[862,1305,998,1318],[788,1335,725,1280],[1133,1345,1265,1305],[605,1422,540,1365],[757,1408,695,1350],[682,1435,695,1350],[820,1455,853,1378],[912,1435,985,1397],[1148,1422,1208,1360],[742,1485,652,1498],[1355,815,1345,885]];
const frDhRhPos = [[1048,332,978,360,920,158,988,200,1055,245,983,280,910,315,842,350,1113,370,1120,290,1185,330,1180,410,1045,410,978,440,1110,447],[1045,410,978,440,1110,447,1180,410,1113,370,978,360],[550,315,475,283,405,335,478,360,555,390,403,255],[340,390,235,480,380,590],[465,445,413,528,388,445],[413,528,380,590],[498,938,425,955,487,1015,632,955,513,860],[888,713,897,630,933,918,825,662],[1012,805,1075,857,1145,815],[1198,955,1137,900,1260,1005],[690,277,600,180],[1125,215,1128,130],[773,395,830,585],[615,580,545,718],[503,655,580,640],[622,712,580,640],[1102,613,897,630],[458,808,397,745],[155,888,135,958],[968,1040,990,958],[1033,1090,990,958],[1175,1113,960,1112],[548,1065,475,1085],[1305,1212,1338,1278],[377,1278,440,1320],[1048,1452,1060,1365],[770,978,758,1045]];

// where each network sits on the page (crop box of the original) and its grid size
const panels = [
  { box: [0, 130, 740, 680], span: 156.8, dams: rhFlVeDams, degs: rhFlVeDegs, neg: rhFlVeNeg, pos: rhFlVePos },
  { box: [720, 130, 720, 690], span: 1568, dams: rhFrFlDams, degs: rhFrFlDegs, neg: rhFrFlNeg, pos: rhFrFlPos },
  { box: [1480, 130, 790, 680], span: 1568, dams: dhFlVeDams, degs: dhFlVeDegs, neg: dhFlVeNeg, pos: dhFlVePos },
  { box: [2280, 120, 680, 680], span: 1568, dams: dhFrFlDams, degs: dhFrFlDegs, neg: dhFrFlNeg, pos: dhFrFlPos },
  { box: [0, 880, 790, 737], span: 1568, dams: veDhRhDams, degs: veDhRhDegs, neg: veDhRhNeg, pos: veDhRhPos },
  { box: [850, 880, 690, 737], span: 1568, dams: flDhRhDams, degs: flDhRhDegs, neg: flDhRhNeg, pos: flDhRhPos, ring: true },
  { box: [1600, 870, 750, 747], span: 1568, dams: frDhRhDams, degs: frDhRhDegs, neg: frDhRhNeg, pos: frDhRhPos },
];

function toPoints(flat) {
  let pts = [];
  for (let i = 0; i < flat.length; i += 2) {
    pts.push({ x: flat[i], y: flat[i + 1] });
  }
  return pts;
}

// each star is [cx, cy, x1, y1, x2, y2, ...]: one edge from the centre to every other point
function toEdges(stars) {
  let pts = [];
  for (const s of stars) {
    for (let i = 2; i < s.length; i += 2) {
      pts.push({ x: s[0], y: s[1] }, { x: s[i], y: s[i + 1] }, { x: null, y: null });
    }
  }
  return pts;
}

const fig = document.getElementById("fig");

panels.forEach(function (p) {
  const canvas = document.createElement("canvas");
  canvas.width = p.box[2];
  canvas.height = p.box[3];
  canvas.style.left = p.box[0] + "px";
  canvas.style.top = p.box[1] + "px";
  canvas.style.width = p.box[2] + "px";
  canvas.style.height = p.box[3] + "px";
  fig.appendChild(canvas);

  let datasets = [
    {
      data: toEdges(p.neg), showLine: true, spanGaps: false, borderColor: "rgba(74,124,50,0.85)",
      borderWidth: 2, pointRadius: 0, order: 5, clip: false,
    },
    {
      data: toEdges(p.pos), showLine: true, spanGaps: false, borderColor: "rgba(244,74,50,0.85)",
      borderWidth: 2, pointRadius: 0, order: 4, clip: false,
    },
    {
      data: toPoints(p.dams), pointStyle: "triangle", pointRadius: 19, backgroundColor: "#2E6AA5",
      borderColor: "#2E6AA5", borderWidth: 0, order: 3, clip: false,
    },
    {
      data: toPoints(p.degs), pointStyle: "circle", pointRadius: 12, backgroundColor: "#E5A832",
      borderColor: p.ring ? "#E39A2C" : "#E5A832", borderWidth: p.ring ? 1.5 : 0, order: 2, clip: false,
    },
  ];
  if (p.ring) {
    datasets.push({
      data: toPoints(p.degs), pointStyle: "circle", pointRadius: 7.5, backgroundColor: "rgba(0,0,0,0)",
      borderColor: "rgba(236,84,44,0.9)", borderWidth: 1.4, order: 1, clip: false,
    });
  }

  new Chart(canvas, {
    type: "scatter",
    data: { datasets: datasets },
    options: {
      responsive: false,
      animation: false,
      events: [],
      layout: { padding: 0 },
      plugins: { legend: { display: false }, tooltip: { enabled: false } },
      scales: {
        x: { type: "linear", min: 0, max: p.span, display: false },
        y: { type: "linear", min: 0, max: p.span, reverse: true, display: false },
      },
    },
  });
});
</script>
</body>
</html>
